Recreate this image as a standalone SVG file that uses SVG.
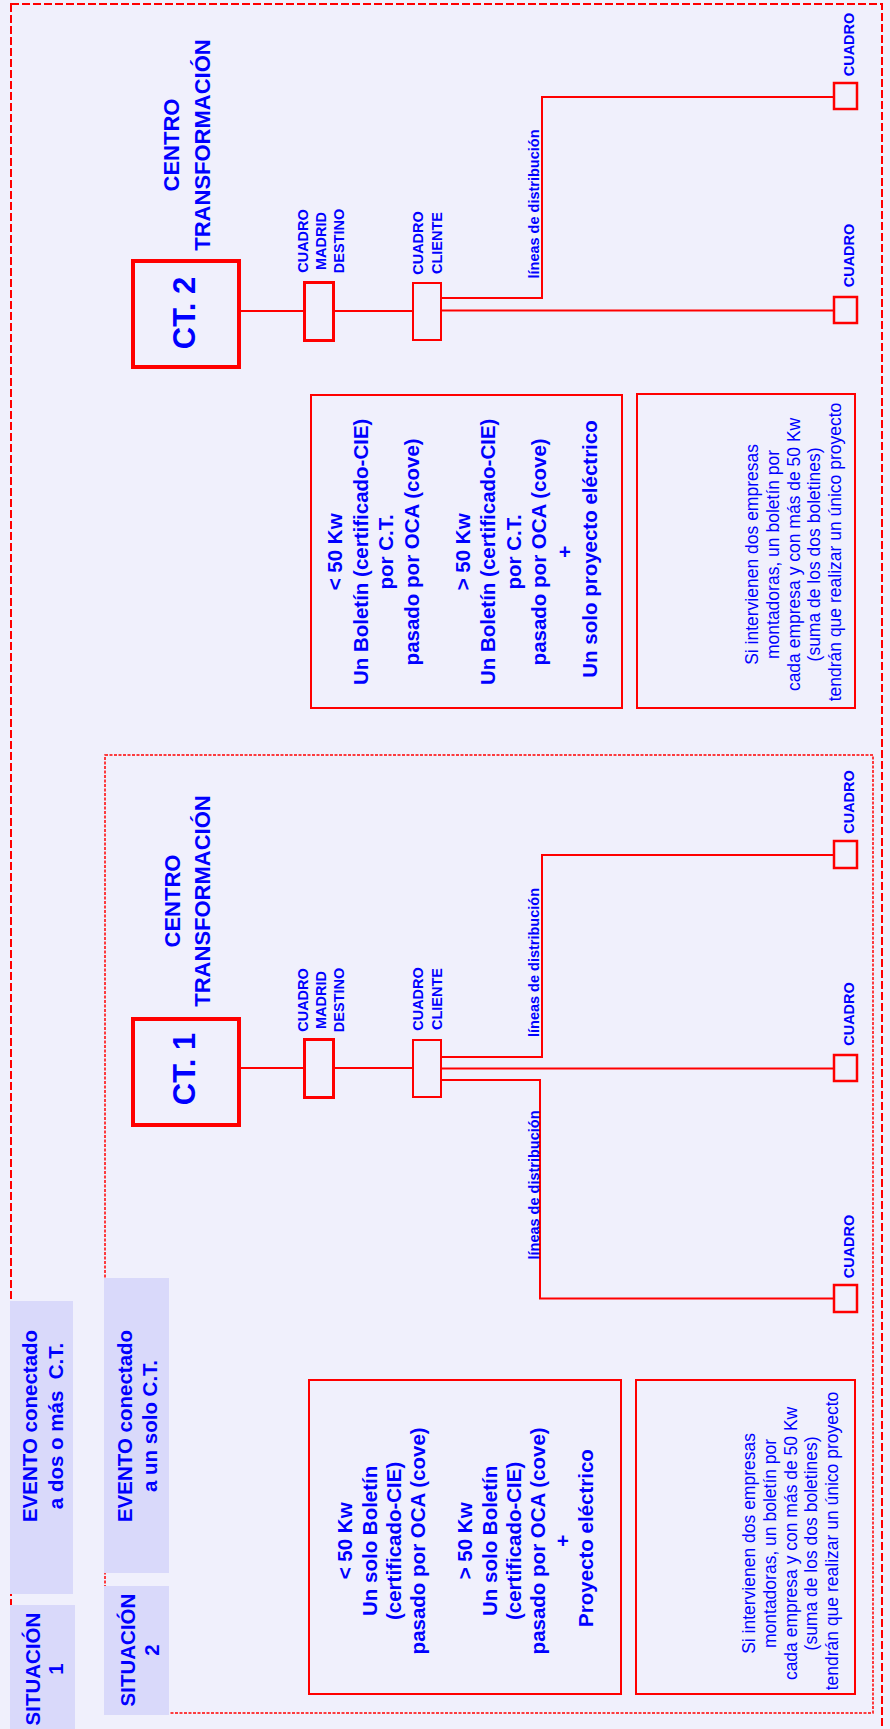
<svg xmlns="http://www.w3.org/2000/svg" width="890" height="1729" viewBox="0 0 890 1729">
<style>
.bg{fill:#F0F0FC}
.frame{fill:none;stroke:#FF0000;stroke-width:2;stroke-dasharray:8 3}
.dot{fill:none;stroke:#FF0000;stroke-width:1.5;stroke-dasharray:3 1.5}
.lbl{fill:#D9D9FA}
.ct{fill:none;stroke:#FF0000;stroke-width:4}
.md{fill:none;stroke:#FF0000;stroke-width:3}
.cl{fill:none;stroke:#FF0000;stroke-width:2}
.cu{fill:none;stroke:#FF0000;stroke-width:2.5}
.info{fill:none;stroke:#FF0000;stroke-width:2}
.wire{fill:none;stroke:#FF0000;stroke-width:2}
text{font-family:"Liberation Sans",Arial,sans-serif;fill:#0000FF;text-anchor:middle}
.b{font-weight:bold}
.f14{font-size:14.5px;font-weight:bold}
.f20{font-size:20.5px;font-weight:bold}
.f22{font-size:22px;font-weight:bold}
.f30{font-size:31px;font-weight:bold}
.f17{font-size:17.5px}
</style>
<rect class="bg" x="0" y="0" width="890" height="1729"/>
<rect class="frame" x="11" y="4" width="871" height="1740"/>
<rect class="dot" x="105" y="755" width="768" height="958"/>

<g id="connectors">
  <polyline class="wire" points="241,311 305,311"/>
  <polyline class="wire" points="334,311 413,311"/>
  <polyline class="wire" points="441,298 542,298 542,97 834,97"/>
  <polyline class="wire" points="441,310.5 834,310.5"/>
  <polyline class="wire" points="241,1068 305,1068"/>
  <polyline class="wire" points="334,1068 413,1068"/>
  <polyline class="wire" points="441,1057 542,1057 542,855 834,855"/>
  <polyline class="wire" points="441,1068.5 834,1068.5"/>
  <polyline class="wire" points="441,1080 540,1080 540,1298.5 834,1298.5"/>
</g>

<g id="sit1-label"><rect class="lbl" x="10" y="1605" width="65" height="130"/>
<text class="f20" transform="rotate(-90)"><tspan x="-1669" y="40">SITUACIÓN</tspan><tspan x="-1669" y="63">1</tspan></text></g>
<g id="sit1-event"><rect class="lbl" x="10" y="1301" width="63" height="293"/>
<text class="f20" transform="rotate(-90)"><tspan x="-1426" y="37">EVENTO conectado</tspan><tspan x="-1426" y="63">a dos o más&#160; C.T.</tspan></text></g>
<g id="sit2-label"><rect class="lbl" x="104" y="1586" width="65" height="129"/>
<text class="f20" transform="rotate(-90)"><tspan x="-1650" y="135">SITUACIÓN</tspan><tspan x="-1650" y="159">2</tspan></text></g>
<g id="sit2-event"><rect class="lbl" x="104" y="1278" width="65" height="295"/>
<text class="f20" transform="rotate(-90)"><tspan x="-1426" y="132">EVENTO conectado</tspan><tspan x="-1426" y="157">a un solo C.T.</tspan></text></g>

<g id="ct2">
  <rect class="ct" x="133" y="261" width="106" height="106"/>
  <text class="f30" transform="rotate(-90)" x="-313" y="195">CT. 2</text>
  <text class="f22" transform="rotate(-90)"><tspan x="-145" y="179">CENTRO</tspan><tspan x="-145" y="210">TRANSFORMACIÓN</tspan></text>
</g>
<g id="ct2-madrid">
  <rect class="md" x="304.5" y="282.5" width="29" height="58"/>
  <text class="f14" transform="rotate(-90)"><tspan x="-241" y="308">CUADRO</tspan><tspan x="-241" y="326">MADRID</tspan><tspan x="-241" y="344">DESTINO</tspan></text>
</g>
<g id="ct2-cliente">
  <rect class="cl" x="413" y="283" width="28" height="57"/>
  <text class="f14" transform="rotate(-90)"><tspan x="-243" y="423">CUADRO</tspan><tspan x="-243" y="442">CLIENTE</tspan></text>
</g>
<g id="ct2-cuadro1"><rect class="cu" x="834" y="83" width="23" height="26"/>
<text class="f14" transform="rotate(-90)" x="-44.5" y="854">CUADRO</text></g>
<g id="ct2-cuadro2"><rect class="cu" x="834" y="297" width="23" height="26"/>
<text class="f14" transform="rotate(-90)" x="-255.5" y="854">CUADRO</text></g>
<g id="ct2-lineas"><text class="f14" transform="rotate(-90)" x="-204" y="539">líneas de distribución</text></g>

<g id="ct2-info">
  <rect class="info" x="311" y="395" width="311" height="313"/>
  <text class="f20" transform="rotate(-90)">
    <tspan x="-549" y="342">&lt; 50 Kw</tspan>
    <tspan x="-549" y="367.5">Un Boletín (certificado-CIE)</tspan>
    <tspan x="-549" y="393">por C.T.</tspan>
    <tspan x="-549" y="418.5">pasado por OCA (cove)</tspan>
    <tspan x="-549" y="469.5">&gt; 50 Kw</tspan>
    <tspan x="-549" y="495">Un Boletín (certificado-CIE)</tspan>
    <tspan x="-549" y="520.5">por C.T.</tspan>
    <tspan x="-549" y="546">pasado por OCA (cove)</tspan>
    <tspan x="-549" y="571.5">+</tspan>
    <tspan x="-549" y="597">Un solo proyecto eléctrico</tspan>
  </text>
</g>
<g id="ct2-note">
  <rect class="info" x="637" y="394" width="218" height="314"/>
  <text class="f17" transform="rotate(-90)">
    <tspan x="-552" y="758">Si intervienen dos empresas</tspan>
    <tspan x="-552" y="779">montadoras, un boletín por</tspan>
    <tspan x="-552" y="799.5">cada empresa y con más de 50 Kw</tspan>
    <tspan x="-552" y="820">(suma de los dos boletines)</tspan>
    <tspan x="-552" y="841">tendrán que realizar un único proyecto</tspan>
  </text>
</g>

<g id="ct1">
  <rect class="ct" x="133" y="1019" width="106" height="106"/>
  <text class="f30" transform="rotate(-90)" x="-1069" y="195">CT. 1</text>
  <text class="f22" transform="rotate(-90)"><tspan x="-901" y="180">CENTRO</tspan><tspan x="-901" y="210">TRANSFORMACIÓN</tspan></text>
</g>
<g id="ct1-madrid">
  <rect class="md" x="304.5" y="1039.5" width="29" height="58"/>
  <text class="f14" transform="rotate(-90)"><tspan x="-1000" y="308">CUADRO</tspan><tspan x="-1000" y="326">MADRID</tspan><tspan x="-1000" y="344">DESTINO</tspan></text>
</g>
<g id="ct1-cliente">
  <rect class="cl" x="413" y="1040" width="28" height="57"/>
  <text class="f14" transform="rotate(-90)"><tspan x="-999" y="423">CUADRO</tspan><tspan x="-999" y="442">CLIENTE</tspan></text>
</g>
<g id="ct1-cuadro1"><rect class="cu" x="834" y="841" width="23" height="27"/>
<text class="f14" transform="rotate(-90)" x="-802" y="854">CUADRO</text></g>
<g id="ct1-cuadro2"><rect class="cu" x="834" y="1055" width="23" height="26"/>
<text class="f14" transform="rotate(-90)" x="-1014" y="854">CUADRO</text></g>
<g id="ct1-cuadro3"><rect class="cu" x="834" y="1285" width="23" height="27"/>
<text class="f14" transform="rotate(-90)" x="-1246.5" y="854">CUADRO</text></g>
<g id="ct1-lineas1"><text class="f14" transform="rotate(-90)" x="-962.5" y="539">líneas de distribución</text></g>
<g id="ct1-lineas2"><text class="f14" transform="rotate(-90)" x="-1185" y="539">líneas de distribución</text></g>

<g id="ct1-info">
  <rect class="info" x="309" y="1380" width="312" height="314"/>
  <text class="f20" transform="rotate(-90)">
    <tspan x="-1538" y="352">&lt; 50 Kw</tspan>
    <tspan x="-1538" y="376.5">Un solo Boletín</tspan>
    <tspan x="-1538" y="400.5">(certificado-CIE)</tspan>
    <tspan x="-1538" y="424.5">pasado por OCA (cove)</tspan>
    <tspan x="-1538" y="472">&gt; 50 Kw</tspan>
    <tspan x="-1538" y="496.5">Un solo Boletín</tspan>
    <tspan x="-1538" y="520.5">(certificado-CIE)</tspan>
    <tspan x="-1538" y="545">pasado por OCA (cove)</tspan>
    <tspan x="-1538" y="569.5">+</tspan>
    <tspan x="-1538" y="593">Proyecto eléctrico</tspan>
  </text>
</g>
<g id="ct1-note">
  <rect class="info" x="636" y="1380" width="219" height="314"/>
  <text class="f17" transform="rotate(-90)">
    <tspan x="-1541" y="755">Si intervienen dos empresas</tspan>
    <tspan x="-1541" y="776">montadoras, un boletín por</tspan>
    <tspan x="-1541" y="796.5">cada empresa y con más de 50 Kw</tspan>
    <tspan x="-1541" y="817">(suma de los dos boletines)</tspan>
    <tspan x="-1541" y="838">tendrán que realizar un único proyecto</tspan>
  </text>
</g>
</svg>
